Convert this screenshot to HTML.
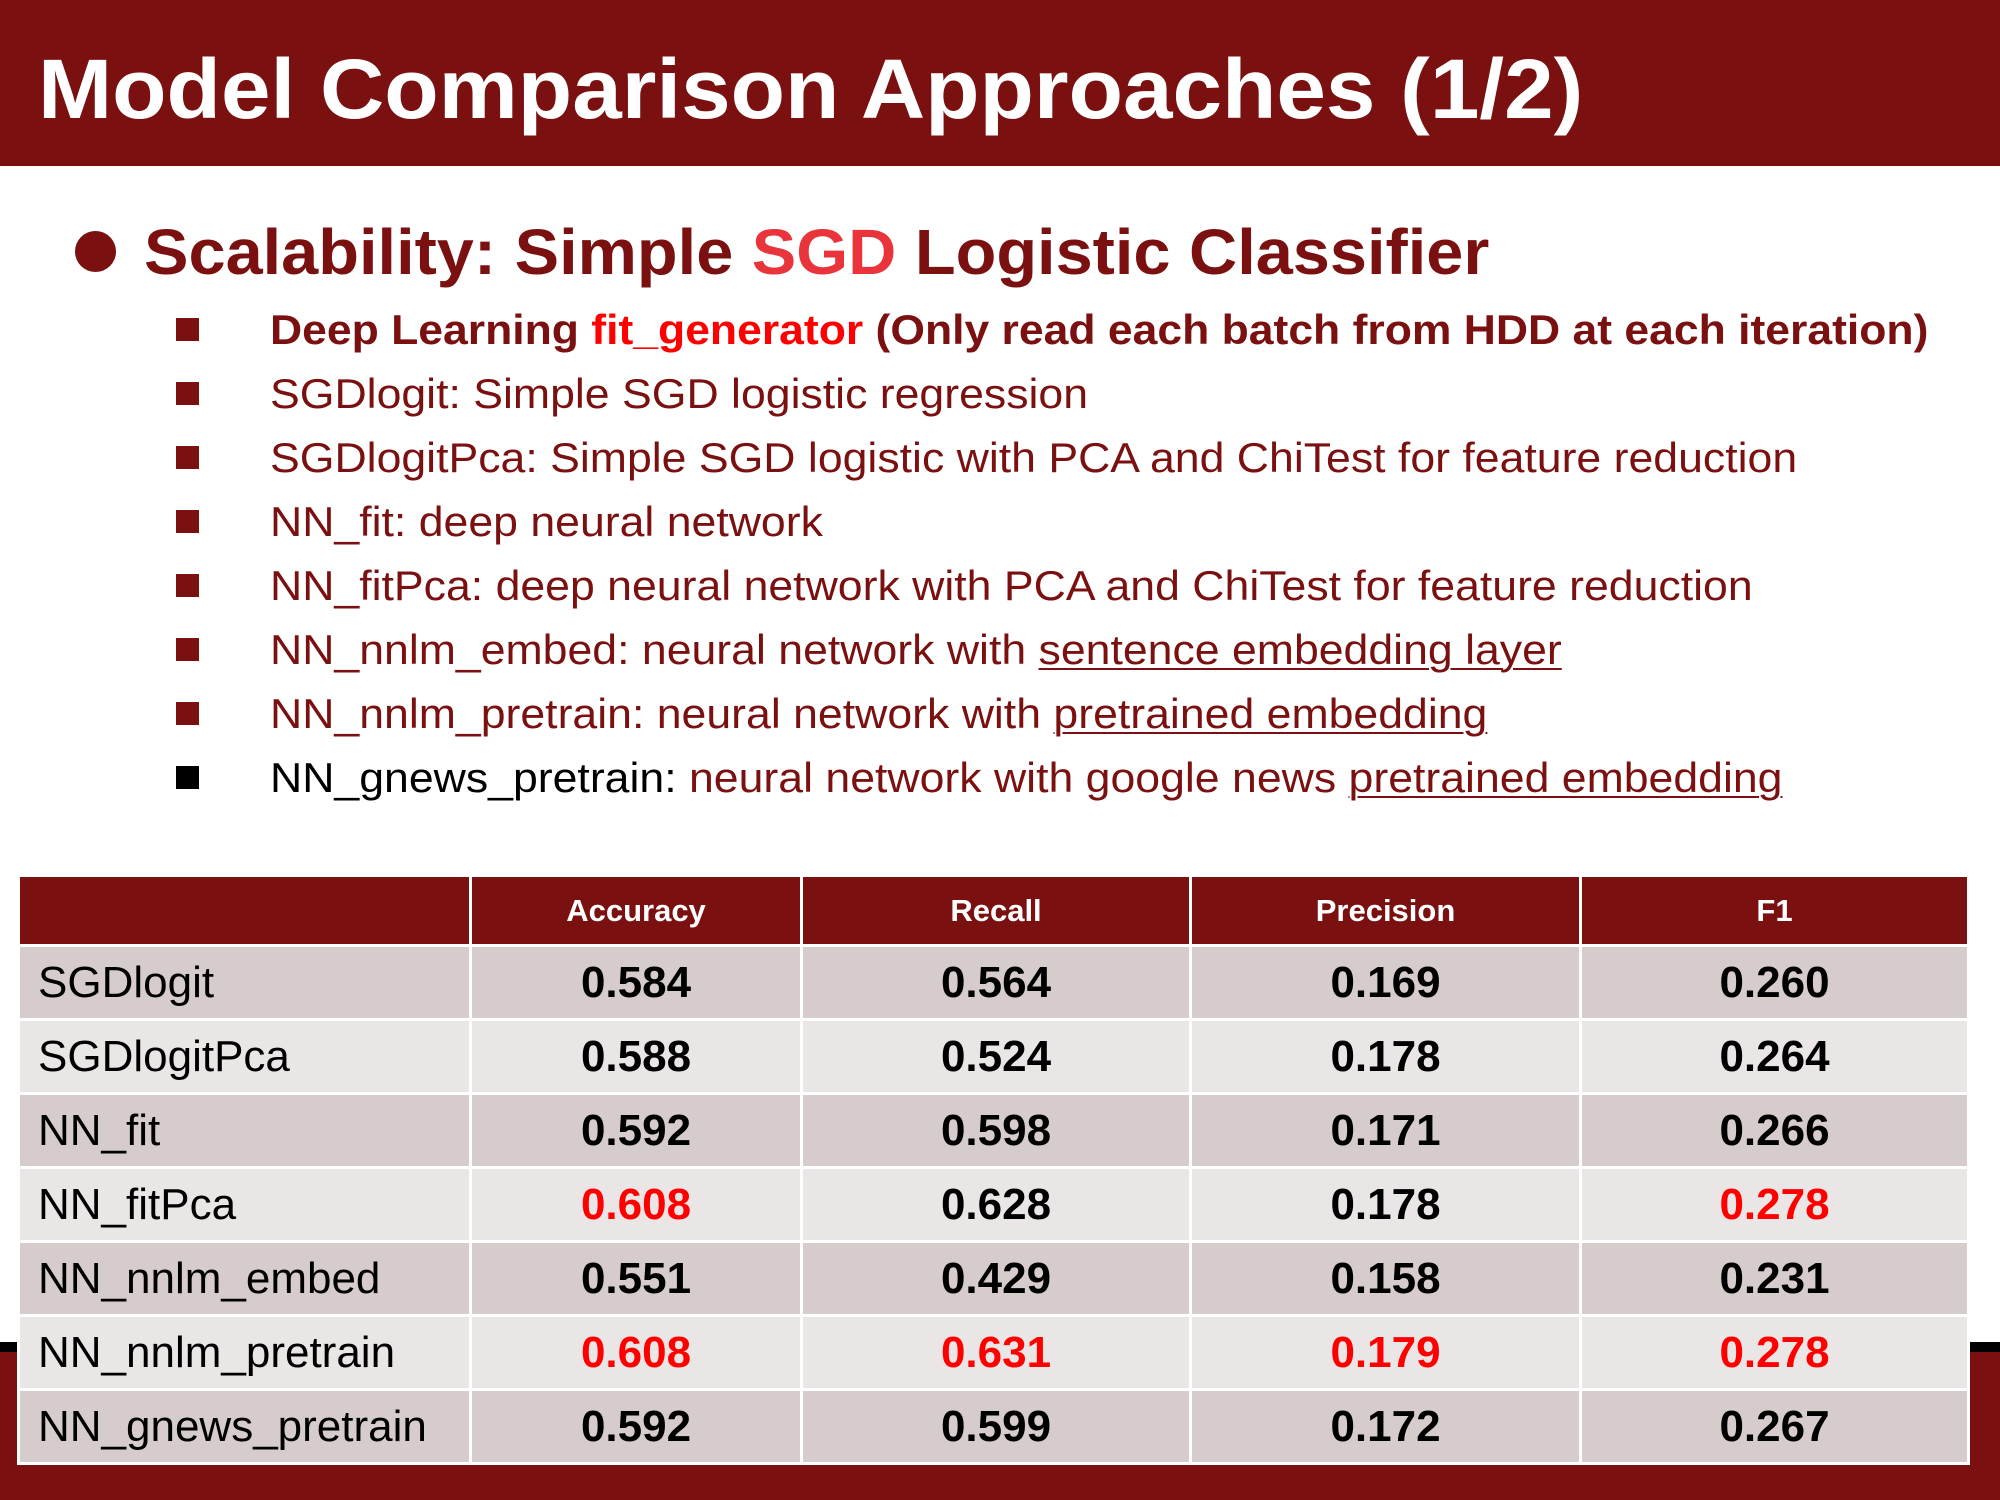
<!DOCTYPE html>
<html><head><meta charset="utf-8"><style>
body{margin:0;width:2000px;height:1500px;position:relative;overflow:hidden;background:#fff;font-family:"Liberation Sans",Arial,sans-serif}
.bar{position:absolute;left:0;width:2000px;background:#7A1010}
.t{position:absolute;white-space:nowrap;transform-origin:left center}
.sq{position:absolute;left:176px;width:23px;height:23px;background:#7A1010}
.li{position:absolute;left:270px;font-size:42px;color:#7A1010;white-space:nowrap;line-height:50px;transform:scaleX(1.062);transform-origin:left center}
u{text-decoration:underline;text-decoration-thickness:2px;text-underline-offset:4px}
table{position:absolute;left:17px;top:874px;border-collapse:collapse;width:1953px}
td{border:3px solid #fff;padding:0;text-align:center;font-weight:bold;font-size:44px;color:#000;height:71px}
th{border:3px solid #fff;background:#7A1010;color:#fff;font-size:31px;height:65px;font-weight:bold}
td.n{text-align:left;font-weight:normal;padding-left:18px}
tr.a td{background:#D6CCCC}tr.b td{background:#EAE6E5}
.r{color:#FF0000}
</style></head><body>
<div class="bar" style="top:0;height:166px"></div>
<div class="t" style="left:38px;top:44px;font-size:84px;font-weight:bold;color:#fff;line-height:90px;transform:scaleX(1.06)">Model Comparison Approaches (1/2)</div>
<div class="bar" style="top:1342px;height:10px;background:#000"></div>
<div class="bar" style="top:1352px;height:148px"></div>
<div style="position:absolute;left:75px;top:231px;width:41px;height:41px;border-radius:50%;background:#7A1010"></div>
<div class="t" style="left:144px;top:215px;font-size:64px;font-weight:bold;color:#7A1010;line-height:74px;transform:scaleX(1.042)">Scalability: Simple <span style="color:#E8343A">SGD</span> Logistic Classifier</div>
<div class="sq" style="top:318px"></div><div class="li" style="top:305px;font-weight:bold;transform:scaleX(1.059)">Deep Learning <span style="color:#FF0000">fit_generator</span> (Only read each batch from HDD at each iteration)</div>
<div class="sq" style="top:382px"></div><div class="li" style="top:369px">SGDlogit: Simple SGD logistic regression</div>
<div class="sq" style="top:446px"></div><div class="li" style="top:433px">SGDlogitPca: Simple SGD logistic with PCA and ChiTest for feature reduction</div>
<div class="sq" style="top:510px"></div><div class="li" style="top:497px">NN_fit: deep neural network</div>
<div class="sq" style="top:574px"></div><div class="li" style="top:561px">NN_fitPca: deep neural network with PCA and ChiTest for feature reduction</div>
<div class="sq" style="top:638px"></div><div class="li" style="top:625px">NN_nnlm_embed: neural network with <u>sentence embedding layer</u></div>
<div class="sq" style="top:702px"></div><div class="li" style="top:689px">NN_nnlm_pretrain: neural network with <u>pretrained embedding</u></div>
<div class="sq" style="top:766px;background:#000"></div><div class="li" style="top:753px"><span style="color:#000">NN_gnews_pretrain:</span> neural network with google news <u>pretrained embedding</u></div>
<table>
<colgroup><col style="width:452px"><col style="width:331px"><col style="width:389px"><col style="width:390px"><col></colgroup>
<tr><th></th><th>Accuracy</th><th>Recall</th><th>Precision</th><th>F1</th></tr>
<tr class="a"><td class="n">SGDlogit</td><td>0.584</td><td>0.564</td><td>0.169</td><td>0.260</td></tr>
<tr class="b"><td class="n">SGDlogitPca</td><td>0.588</td><td>0.524</td><td>0.178</td><td>0.264</td></tr>
<tr class="a"><td class="n">NN_fit</td><td>0.592</td><td>0.598</td><td>0.171</td><td>0.266</td></tr>
<tr class="b"><td class="n">NN_fitPca</td><td class="r">0.608</td><td>0.628</td><td>0.178</td><td class="r">0.278</td></tr>
<tr class="a"><td class="n">NN_nnlm_embed</td><td>0.551</td><td>0.429</td><td>0.158</td><td>0.231</td></tr>
<tr class="b"><td class="n">NN_nnlm_pretrain</td><td class="r">0.608</td><td class="r">0.631</td><td class="r">0.179</td><td class="r">0.278</td></tr>
<tr class="a"><td class="n">NN_gnews_pretrain</td><td>0.592</td><td>0.599</td><td>0.172</td><td>0.267</td></tr>
</table>
</body></html>
